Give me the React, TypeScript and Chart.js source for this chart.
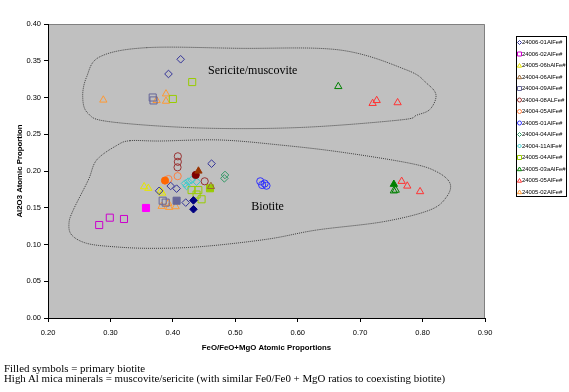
import React, { useEffect, useRef } from "react";
import { Chart, registerables } from "chart.js";

Chart.register(...registerables);

// ---- series meta ----
const seriesNames = [
  "24006-01AlFe#", "24006-02AlFe#", "24005-06bAlFe#", "24004-06AlFe#", "24004-09AlFe#",
  "24004-08ALFe#", "24004-05AlFe#", "24005-01AlFe#", "24004-04AlFe#", "24004-11AlFe#",
  "24005-04AlFe#", "24005-03aAlFe#", "24005-05AlFe#", "24005-02AlFe#",
];
const seriesColors = [
  "#333399", "#CC00CC", "#E6E600", "#996633", "#666699",
  "#993333", "#FF8040", "#3333FF", "#339966", "#33CCCC",
  "#99CC00", "#008000", "#FF3333", "#FF9933",
];
const seriesFillColors = [
  "#000080", "#FF00FF", "#E6E600", "#993300", "#666699",
  "#800000", "#FF6600", "#3333FF", "#339966", "#33CCCC",
  "#99CC00", "#008000", "#FF3333", "#FF9933",
];
const seriesShapes = [
  "rectRot", "rect", "triangle", "triangle", "rect",
  "circle", "circle", "circle", "rectRot", "rectRot",
  "rect", "triangle", "triangle", "triangle",
];

// ---- series values: FeO/(FeO+MgO), Al2O3, filled (1 = primary biotite) ----
const s24006_01X = [0.4125, 0.393, 0.462, 0.3965, 0.406, 0.378, 0.4206, 0.433, 0.433];
const s24006_01Y = [0.352, 0.332, 0.21, 0.1796, 0.176, 0.173, 0.157, 0.16, 0.148];
const s24006_01F = [0, 0, 0, 0, 0, 0, 0, 1, 1];

const s24006_02X = [0.282, 0.299, 0.3217, 0.357];
const s24006_02Y = [0.1265, 0.1365, 0.1347, 0.1497];
const s24006_02F = [0, 0, 0, 1];

const s24005_06bX = [0.354, 0.3607, 0.3805, 0.383];
const s24005_06bY = [0.1787, 0.1765, 0.173, 0.17];
const s24005_06bF = [0, 0, 0, 0];

const s24004_06X = [0.441, 0.461];
const s24004_06Y = [0.2, 0.179];
const s24004_06F = [1, 0];

const s24004_09X = [0.3677, 0.369, 0.3837, 0.3885, 0.406];
const s24004_09Y = [0.3, 0.296, 0.1596, 0.157, 0.1596];
const s24004_09F = [0, 0, 0, 0, 1];

const s24004_08X = [0.408, 0.408, 0.4075, 0.451, 0.4366];
const s24004_08Y = [0.22, 0.2125, 0.205, 0.186, 0.1946];
const s24004_08F = [0, 0, 0, 0, 1];

const s24004_05X = [0.4077, 0.393, 0.3874];
const s24004_05Y = [0.193, 0.189, 0.187];
const s24004_05F = [0, 0, 1];

const s24005_01X = [0.54, 0.543, 0.547, 0.55];
const s24005_01Y = [0.186, 0.181, 0.183, 0.18];
const s24005_01F = [0, 0, 0, 0];

const s24004_04X = [0.4835, 0.4825];
const s24004_04Y = [0.1946, 0.19];
const s24004_04F = [0, 0];

const s24004_11X = [0.4195, 0.4247, 0.43, 0.422, 0.438];
const s24004_11Y = [0.183, 0.1855, 0.1878, 0.1796, 0.1855];
const s24004_11F = [0, 0, 0, 0, 0];

const s24005_04X = [0.431, 0.4, 0.43, 0.4408, 0.446, 0.438, 0.4595];
const s24005_04Y = [0.321, 0.298, 0.174, 0.174, 0.1615, 0.168, 0.1765];
const s24005_04F = [0, 0, 0, 0, 0, 0, 1];

const s24005_03aX = [0.665, 0.754, 0.754, 0.757];
const s24005_03aY = [0.315, 0.182, 0.173, 0.174];
const s24005_03aF = [0, 1, 0, 0];

const s24005_05X = [0.72, 0.7265, 0.76, 0.7665, 0.7755, 0.796];
const s24005_05Y = [0.292, 0.296, 0.293, 0.186, 0.1796, 0.172];
const s24005_05F = [0, 0, 0, 0, 0, 0];

const s24005_02X = [0.2886, 0.374, 0.389, 0.389, 0.382, 0.3927, 0.394, 0.4045];
const s24005_02Y = [0.2966, 0.296, 0.305, 0.295, 0.152, 0.156, 0.1506, 0.1515];
const s24005_02F = [0, 0, 0, 0, 0, 0, 0, 0];

const seriesX = [s24006_01X, s24006_02X, s24005_06bX, s24004_06X, s24004_09X, s24004_08X, s24004_05X,
  s24005_01X, s24004_04X, s24004_11X, s24005_04X, s24005_03aX, s24005_05X, s24005_02X];
const seriesY = [s24006_01Y, s24006_02Y, s24005_06bY, s24004_06Y, s24004_09Y, s24004_08Y, s24004_05Y,
  s24005_01Y, s24004_04Y, s24004_11Y, s24005_04Y, s24005_03aY, s24005_05Y, s24005_02Y];
const seriesF = [s24006_01F, s24006_02F, s24005_06bF, s24004_06F, s24004_09F, s24004_08F, s24004_05F,
  s24005_01F, s24004_04F, s24004_11F, s24005_04F, s24005_03aF, s24005_05F, s24005_02F];

// ---- field outlines (data space) ----
const sericiteOutlineX = [0.358, 0.5075, 0.6677, 0.7746, 0.8066, 0.8215, 0.812, 0.7906, 0.7638, 0.6037, 0.4435, 0.2993, 0.264, 0.2556, 0.262, 0.2833];
const sericiteOutlineY = [0.3678, 0.3669, 0.3646, 0.3374, 0.3193, 0.3034, 0.284, 0.276, 0.2694, 0.2592, 0.2585, 0.267, 0.2785, 0.301, 0.3283, 0.3555];
const biotiteOutlineX = [0.3313, 0.3794, 0.4755, 0.5716, 0.6677, 0.7799, 0.8226, 0.8439, 0.8386, 0.8119, 0.7371, 0.6304, 0.5503, 0.4435, 0.3634, 0.3046, 0.262, 0.238, 0.2336, 0.2405, 0.2646, 0.278, 0.31];
const biotiteOutlineY = [0.2412, 0.2408, 0.2422, 0.2354, 0.2259, 0.2105, 0.199, 0.1833, 0.165, 0.147, 0.131, 0.1197, 0.1071, 0.097, 0.0948, 0.097, 0.1016, 0.1129, 0.1288, 0.147, 0.1878, 0.215, 0.2347];

const xTicks = ["0.20", "0.30", "0.40", "0.50", "0.60", "0.70", "0.80", "0.90"];
const yTicks = ["0.00", "0.05", "0.10", "0.15", "0.20", "0.25", "0.30", "0.35", "0.40"];

const fieldLabels = ["Sericite/muscovite", "Biotite"];
const fieldLabelX = [0.528, 0.5516];
const fieldLabelY = [0.3365, 0.1506];

const xTitle = "FeO/FeO+MgO Atomic Proportions";
const yTitle = "Al2O3 Atomic Proportion";
const footnotes = [
  "Filled symbols = primary biotite",
  "High Al mica minerals = muscovite/sericite (with similar Fe0/Fe0 + MgO ratios to coexisting biotite)",
];

function drawClosedSpline(ctx: CanvasRenderingContext2D, pts: { x: number; y: number }[]) {
  const n = pts.length;
  ctx.beginPath();
  ctx.moveTo(pts[0].x, pts[0].y);
  for (let i = 0; i < n; i++) {
    const p0 = pts[(i - 1 + n) % n], p1 = pts[i], p2 = pts[(i + 1) % n], p3 = pts[(i + 2) % n];
    ctx.bezierCurveTo(
      p1.x + (p2.x - p0.x) / 6, p1.y + (p2.y - p0.y) / 6,
      p2.x - (p3.x - p1.x) / 6, p2.y - (p3.y - p1.y) / 6,
      p2.x, p2.y
    );
  }
  ctx.closePath();
  ctx.stroke();
}

function drawSymbol(ctx: CanvasRenderingContext2D, shape: string, x: number, y: number, r: number, color: string) {
  ctx.save();
  ctx.strokeStyle = color;
  ctx.lineWidth = 1;
  ctx.beginPath();
  if (shape === "circle") {
    ctx.arc(x, y, r, 0, Math.PI * 2);
  } else if (shape === "rect") {
    ctx.rect(x - r, y - r, 2 * r, 2 * r);
  } else if (shape === "rectRot") {
    ctx.moveTo(x, y - r); ctx.lineTo(x + r, y); ctx.lineTo(x, y + r); ctx.lineTo(x - r, y); ctx.closePath();
  } else {
    ctx.moveTo(x, y - r); ctx.lineTo(x + r * 1.05, y + r * 0.85); ctx.lineTo(x - r * 1.05, y + r * 0.85); ctx.closePath();
  }
  ctx.stroke();
  ctx.restore();
}

const backgroundPlugin = {
  id: "plotBg",
  beforeDraw(chart: any) {
    const { ctx, chartArea: a } = chart;
    ctx.save();
    ctx.fillStyle = "#C0C0C0";
    ctx.fillRect(a.left, a.top, a.right - a.left, a.bottom - a.top);
    ctx.strokeStyle = "#808080";
    ctx.lineWidth = 1;
    ctx.beginPath();
    ctx.moveTo(a.left, a.top + 0.5);
    ctx.lineTo(a.right - 0.5, a.top + 0.5);
    ctx.lineTo(a.right - 0.5, a.bottom);
    ctx.stroke();
    ctx.restore();
  },
};

const fieldsPlugin = {
  id: "fields",
  afterDatasetsDraw(chart: any) {
    const { ctx } = chart;
    const xs = chart.scales.x, ys = chart.scales.y;
    const toPts = (X: number[], Y: number[]) => X.map((v, i) => ({ x: xs.getPixelForValue(v), y: ys.getPixelForValue(Y[i]) }));
    ctx.save();
    ctx.strokeStyle = "#404040";
    ctx.lineWidth = 1;
    ctx.setLineDash([1, 1]);
    drawClosedSpline(ctx, toPts(sericiteOutlineX, sericiteOutlineY));
    drawClosedSpline(ctx, toPts(biotiteOutlineX, biotiteOutlineY));
    ctx.setLineDash([]);
    ctx.fillStyle = "#000";
    ctx.font = "12px 'Liberation Serif', 'Times New Roman', serif";
    ctx.textAlign = "center";
    ctx.textBaseline = "middle";
    fieldLabels.forEach((t, i) => {
      ctx.fillText(t, xs.getPixelForValue(fieldLabelX[i]), ys.getPixelForValue(fieldLabelY[i]));
    });
    ctx.restore();
  },
};

const legendPlugin = {
  id: "boxLegend",
  afterDraw(chart: any) {
    const { ctx } = chart;
    const left = 516.5, top = 36.5, w = 50, h = 160;
    ctx.save();
    ctx.fillStyle = "#FFFFFF";
    ctx.fillRect(left, top, w, h);
    ctx.strokeStyle = "#000";
    ctx.lineWidth = 1;
    ctx.strokeRect(left, top, w, h);
    ctx.font = "5.9px 'Liberation Sans', Arial, sans-serif";
    ctx.textBaseline = "middle";
    ctx.textAlign = "left";
    seriesNames.forEach((name, i) => {
      const y = 42.5 + i * 11.5;
      drawSymbol(ctx, seriesShapes[i], 519.5, y, 2, seriesColors[i]);
      ctx.fillStyle = "#000";
      ctx.fillText(name, 522, y);
    });
    ctx.restore();
  },
};

const radiusFor = (shape: string) => (shape === "rect" ? 5 : shape === "triangle" ? 4.2 : shape === "rectRot" ? 3.8 : 3.6);

export default function App() {
  const ref = useRef<HTMLCanvasElement | null>(null);
  useEffect(() => {
    if (!ref.current) return;
    const datasets = seriesNames.map((name, i) => {
      const fills = seriesF[i];
      return {
        label: name,
        data: seriesX[i].map((x, j) => ({ x, y: seriesY[i][j] })),
        pointStyle: seriesShapes[i],
        pointRadius: radiusFor(seriesShapes[i]),
        pointHoverRadius: radiusFor(seriesShapes[i]),
        borderWidth: 1,
        pointBorderWidth: 1,
        pointBorderColor: fills.map((f) => (f ? seriesFillColors[i] : seriesColors[i])),
        pointBackgroundColor: fills.map((f) => (f ? seriesFillColors[i] : "rgba(0,0,0,0)")),
        borderColor: seriesColors[i],
        backgroundColor: "rgba(0,0,0,0)",
        showLine: false,
      };
    });
    const chart = new Chart(ref.current, {
      type: "scatter",
      data: { datasets: datasets as any },
      options: {
        animation: false,
        responsive: false,
        devicePixelRatio: 1,
        layout: { padding: { top: 24, right: 84, left: 0, bottom: 0 } },
        plugins: { legend: { display: false }, tooltip: { enabled: false } },
        scales: {
          x: {
            type: "linear",
            min: 0.2,
            max: 0.9,
            afterFit: (s: any) => { s.height = 74; },
            afterBuildTicks: (s: any) => { s.ticks = xTicks.map((t) => ({ value: parseFloat(t) })); },
            ticks: {
              callback: (v: any) => Number(v).toFixed(2),
              font: { size: 7.5, family: "'Liberation Sans', Arial, sans-serif" },
              color: "#000",
              padding: 6.5,
              maxRotation: 0,
              autoSkip: false,
            },
            grid: { drawOnChartArea: false, drawTicks: true, tickLength: 4, color: "#000" },
            border: { display: true, color: "#000", width: 1 },
            title: {
              display: true,
              text: xTitle,
              color: "#000",
              font: { size: 7.8, weight: "bold", family: "'Liberation Sans', Arial, sans-serif" },
              padding: { top: 0, bottom: 39.8 },
            },
          },
          y: {
            type: "linear",
            min: 0,
            max: 0.4,
            afterFit: (s: any) => { s.width = 48; },
            afterBuildTicks: (s: any) => { s.ticks = yTicks.map((t) => ({ value: parseFloat(t) })); },
            ticks: {
              callback: (v: any) => Number(v).toFixed(2),
              font: { size: 7.5, family: "'Liberation Sans', Arial, sans-serif" },
              color: "#000",
              padding: 3,
              autoSkip: false,
            },
            grid: { drawOnChartArea: false, drawTicks: true, tickLength: 4, color: "#000" },
            border: { display: true, color: "#000", width: 1 },
            title: {
              display: true,
              text: yTitle,
              color: "#000",
              font: { size: 7.8, weight: "bold", family: "'Liberation Sans', Arial, sans-serif" },
              padding: { top: 14.8, bottom: 0 },
            },
          },
        },
      },
      plugins: [backgroundPlugin, fieldsPlugin, legendPlugin],
    });
    return () => chart.destroy();
  }, []);

  return (
    <div style={{ position: "absolute", left: 0, top: 0, width: 569, height: 392, background: "#fff" }}>
      <canvas ref={ref} width={569} height={392} style={{ position: "absolute", left: 0, top: 0 }} />
      <div
        style={{
          position: "absolute",
          left: 4,
          top: 362.5,
          fontFamily: "'Liberation Serif', 'Times New Roman', serif",
          fontSize: 10.9,
          lineHeight: "10px",
          color: "#000",
          whiteSpace: "nowrap",
        }}
      >
        {footnotes.map((t) => (
          <div key={t}>{t}</div>
        ))}
      </div>
    </div>
  );
}
